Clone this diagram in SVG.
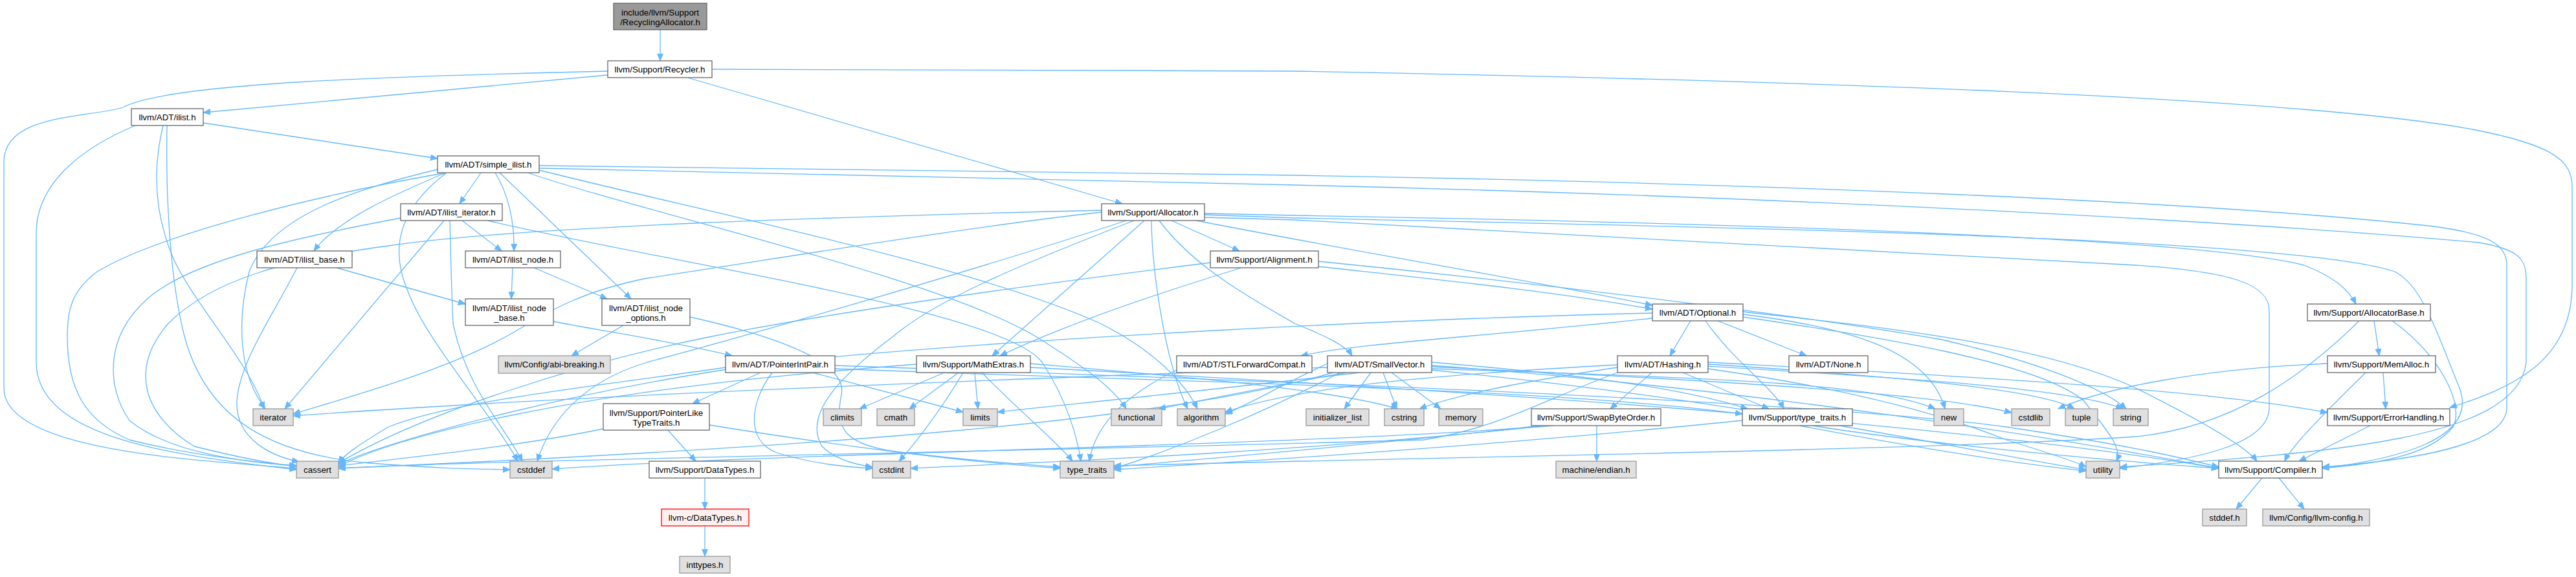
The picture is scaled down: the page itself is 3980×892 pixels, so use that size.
<svg xmlns="http://www.w3.org/2000/svg" width="3980" height="892" viewBox="0 0 3980 892">
<defs>
<marker id="ar" markerWidth="12" markerHeight="10" refX="11" refY="4.5" orient="auto" markerUnits="userSpaceOnUse"><path d="M0,0 L11,4.5 L0,9 z" fill="#63b8ff" stroke="#63b8ff" stroke-width="1"/></marker>
<style>
.e path{fill:none;stroke:#63b8ff;stroke-width:1.3;marker-end:url(#ar)}
.w{fill:#ffffff;stroke:#666666;stroke-width:1.3}
.s{fill:#e0e0e0;stroke:#999999;stroke-width:1.3}
.t{fill:#999999;stroke:#666666;stroke-width:1.3}
.r{fill:#fff0f0;stroke:#ff0000;stroke-width:1.3}
text{font-family:"Liberation Sans",Arial,sans-serif;font-size:13.33px;fill:#000000;text-anchor:middle}
</style>
</defs>
<rect width="3980" height="892" fill="#ffffff"/>
<g id="edges" class="e">
<path d="M1020,46 L1020,94"/>
<path d="M939,116 L314,174"/>
<path d="M939,110 C600,118 260,128 190,166 C140,182 6,175 6,250 L6,600 C6,700 320,712 458,724"/>
<path d="M1062,120 L1734,315"/>
<path d="M1100,107 L2000,110 C2800,125 3550,150 3820,200 C3950,225 3974,250 3974,290 L3974,440 C3974,560 3880,600 3785,630"/>
<path d="M314,190 L676,245"/>
<path d="M209,194 C100,240 56,300 56,360 L56,560 C56,680 280,705 458,726"/>
<path d="M252,194 C236,260 238,330 268,400 C300,470 385,560 408,632"/>
<path d="M258,194 C256,300 262,430 285,520 C320,650 420,700 560,715 C680,725 740,725 788,726"/>
<path d="M743,267 L710,315"/>
<path d="M689,267 C610,300 520,340 485,388"/>
<path d="M765,267 C785,300 795,340 794,388"/>
<path d="M772,267 L975,462"/>
<path d="M689,267 C500,300 250,360 150,420 C110,450 104,480 104,520 C104,600 130,650 200,680 C300,705 400,715 458,720"/>
<path d="M676,262 C560,290 420,330 385,420 C365,500 370,580 410,632"/>
<path d="M690,267 C620,320 600,380 630,450 C660,530 760,640 800,713"/>
<path d="M815,267 C1000,330 1450,430 1600,520 C1680,570 1720,600 1740,632"/>
<path d="M833,263 C1100,330 1500,410 1700,500 C1780,540 1830,590 1850,632"/>
<path d="M833,256 L2000,271 C2700,283 3400,310 3760,350 C3850,362 3873,380 3873,410 L3873,630 C3873,690 3720,712 3588,722"/>
<path d="M833,260 L2000,286 C2800,305 3500,345 3830,375 C3890,385 3903,400 3903,430 L3903,560 C3890,680 3600,700 3275,722"/>
<path d="M714,341 L775,388"/>
<path d="M619,337 C470,365 300,400 230,460 C160,520 165,600 200,650 C260,700 380,715 458,720"/>
<path d="M695,341 C697,420 698,460 700,500 C720,600 780,660 807,713"/>
<path d="M686,341 L440,632"/>
<path d="M753,341 C1050,410 1550,480 1610,560 C1650,620 1665,680 1670,713"/>
<path d="M520,414 L719,470"/>
<path d="M459,414 C420,490 370,560 366,620 C364,680 420,705 462,714"/>
<path d="M792,414 L790,462"/>
<path d="M825,414 L938,462"/>
<path d="M855,497 C950,515 1050,530 1131,550"/>
<path d="M963,503 L883,550"/>
<path d="M1066,490 C1200,520 1310,560 1300,610 C1290,660 1300,690 1400,700 C1500,712 1580,718 1638,722"/>
<path d="M1175,576 L1070,624"/>
<path d="M1193,576 C1160,620 1150,680 1200,700 C1260,718 1310,722 1348,724"/>
<path d="M1255,576 L1488,637"/>
<path d="M1121,568 C900,600 700,620 600,660 C550,690 530,705 523,716"/>
<path d="M1290,565 C2000,590 2800,620 3100,660 C3300,690 3380,710 3428,722"/>
<path d="M1290,570 C1800,590 2400,600 2692,640"/>
<path d="M1032,665 L1075,713"/>
<path d="M1096,657 C1300,690 1500,715 1638,724"/>
<path d="M932,663 C800,690 650,705 523,720"/>
<path d="M1089,739 L1089,787"/>
<path d="M1089,813 L1089,860"/>
<path d="M1459,576 L1328,632"/>
<path d="M1481,576 L1405,632"/>
<path d="M1506,576 L1511,632"/>
<path d="M1488,576 C1450,640 1410,690 1389,713"/>
<path d="M1517,576 C1580,640 1640,690 1657,713"/>
<path d="M1416,563 C1200,580 1000,600 800,640 C650,670 560,700 523,722"/>
<path d="M1592,562 C1800,580 2050,600 2160,632"/>
<path d="M1592,568 C2200,600 3000,650 3428,724"/>
<path d="M1818,572 C1720,620 1690,670 1683,713"/>
<path d="M1861,330 L2000,333 C2800,347 3400,370 3560,410 C3610,430 3630,450 3640,470"/>
<path d="M1861,332 L2000,337 C2800,354 3550,370 3700,420 C3740,440 3760,500 3800,600 C3830,680 3700,710 3588,724"/>
<path d="M1861,336 L2000,340 C2500,370 3000,393 3300,410 C3450,420 3506,440 3506,480 L3506,630 C3506,690 3380,712 3275,724"/>
<path d="M1810,341 L1915,388"/>
<path d="M1848,341 C2100,390 2400,440 2553,472"/>
<path d="M1791,341 C1850,420 1950,470 2000,500 C2050,520 2080,535 2089,550"/>
<path d="M1779,341 C1780,420 1800,560 1835,632"/>
<path d="M1768,341 L1533,550"/>
<path d="M1752,341 C1600,400 1450,460 1380,520 C1300,580 1240,640 1270,690 C1290,710 1320,718 1348,722"/>
<path d="M1740,341 C1500,420 1150,520 1000,560 C900,590 850,650 830,713"/>
<path d="M1702,328 C1500,350 1200,400 1000,430 C900,450 850,480 800,510 C700,570 550,610 453,640"/>
<path d="M1702,325 C1300,335 800,350 600,380 C450,400 330,430 260,500 C200,570 220,640 300,690 C380,710 430,718 458,721"/>
<path d="M1918,414 C1800,450 1650,500 1545,550"/>
<path d="M2037,412 C2200,430 2400,450 2553,478"/>
<path d="M2037,404 C2400,440 2800,490 3000,525 C3150,560 3250,600 3285,632"/>
<path d="M1870,406 C1600,440 1300,480 1100,520 C900,560 650,640 523,716"/>
<path d="M2612,496 L2580,550"/>
<path d="M2654,496 L2791,550"/>
<path d="M2635,496 C2680,560 2740,600 2756,632"/>
<path d="M2693,482 C2900,505 3150,530 3300,600 C3400,650 3470,690 3487,713"/>
<path d="M2553,492 C2300,520 2100,530 2010,550"/>
<path d="M2553,484 C2200,492 1600,520 1200,560 C900,600 600,680 523,718"/>
<path d="M2693,486 C2850,505 2980,540 3005,632"/>
<path d="M2693,490 C2900,520 3150,560 3220,620 C3250,660 3280,690 3270,713"/>
<path d="M2552,576 L2488,632"/>
<path d="M2600,576 L2733,632"/>
<path d="M2639,560 C3000,580 3400,600 3596,638"/>
<path d="M2499,564 C2200,580 2000,600 1893,637"/>
<path d="M2499,568 C2350,590 2250,610 2193,632"/>
<path d="M2499,576 C2380,620 2320,660 2200,680 C1500,700 800,710 523,724"/>
<path d="M2639,563 C2900,580 3150,600 3205,632"/>
<path d="M2639,566 C2950,585 3200,600 3280,632"/>
<path d="M2639,570 C2850,600 3000,640 3100,680 C3180,705 3210,715 3223,722"/>
<path d="M2212,565 C2700,600 3200,680 3428,724"/>
<path d="M2212,560 C2450,580 2600,600 2700,632"/>
<path d="M2051,562 C1990,590 1930,625 1893,640"/>
<path d="M2060,576 C1800,650 1300,690 523,724"/>
<path d="M2212,567 C2700,590 3000,610 3108,638"/>
<path d="M2137,576 L2158,632"/>
<path d="M2080,576 C1950,600 1850,620 1790,632"/>
<path d="M2118,576 L2077,632"/>
<path d="M2051,568 C1600,585 900,610 453,643"/>
<path d="M2100,576 C1900,600 1700,620 1541,637"/>
<path d="M2150,576 L2226,632"/>
<path d="M2212,570 C2700,585 2900,595 2990,632"/>
<path d="M2070,576 C1950,640 1800,700 1721,724"/>
<path d="M2212,572 C2700,620 3000,690 3223,726"/>
<path d="M2467,658 L2467,713"/>
<path d="M2400,658 C2000,690 1200,700 853,725"/>
<path d="M2390,658 C2000,700 1600,715 1407,724"/>
<path d="M2380,658 C2100,690 1850,710 1721,722"/>
<path d="M2800,658 C3000,690 3300,715 3428,724"/>
<path d="M2692,650 C2300,690 1900,715 1721,726"/>
<path d="M2780,658 C2950,690 3100,715 3223,728"/>
<path d="M3668,496 L3676,550"/>
<path d="M3696,496 C3760,540 3810,620 3790,660 C3750,710 3650,718 3588,724"/>
<path d="M3645,496 C3560,580 3450,660 3300,675 C3000,695 2300,705 1721,720"/>
<path d="M3682,576 L3686,632"/>
<path d="M3655,576 C3590,640 3540,690 3530,713"/>
<path d="M3596,562 C3400,570 3250,600 3180,632"/>
<path d="M3662,658 L3552,713"/>
<path d="M3495,739 L3455,787"/>
<path d="M3521,739 L3560,787"/>
</g>
<g id="n0"><rect class="t" x="948" y="5" width="144" height="41"/><text x="1020" y="23.5">include/llvm/Support</text><text x="1020" y="38.5">/RecyclingAllocator.h</text></g>
<g id="n1"><rect class="w" x="939" y="94" width="161" height="26"/><text x="1019.5" y="111.5">llvm/Support/Recycler.h</text></g>
<g id="n2"><rect class="w" x="203" y="168" width="111" height="26"/><text x="258.5" y="185.5">llvm/ADT/ilist.h</text></g>
<g id="n3"><rect class="w" x="676" y="241" width="157" height="26"/><text x="754.5" y="258.5">llvm/ADT/simple_ilist.h</text></g>
<g id="n4"><rect class="w" x="619" y="315" width="157" height="26"/><text x="697.5" y="332.5">llvm/ADT/ilist_iterator.h</text></g>
<g id="n5"><rect class="w" x="397" y="388" width="147" height="26"/><text x="470.5" y="405.5">llvm/ADT/ilist_base.h</text></g>
<g id="n6"><rect class="w" x="719" y="388" width="147" height="26"/><text x="792.5" y="405.5">llvm/ADT/ilist_node.h</text></g>
<g id="n7"><rect class="w" x="719" y="462" width="136" height="41"/><text x="787" y="480.5">llvm/ADT/ilist_node</text><text x="787" y="495.5">_base.h</text></g>
<g id="n8"><rect class="w" x="930" y="462" width="136" height="41"/><text x="998" y="480.5">llvm/ADT/ilist_node</text><text x="998" y="495.5">_options.h</text></g>
<g id="n9"><rect class="s" x="770" y="550" width="173" height="27"/><text x="856.5" y="568">llvm/Config/abi-breaking.h</text></g>
<g id="n10"><rect class="s" x="391" y="632" width="62" height="26"/><text x="422" y="649.5">iterator</text></g>
<g id="n11"><rect class="s" x="458" y="713" width="65" height="26"/><text x="490.5" y="730.5">cassert</text></g>
<g id="n12"><rect class="s" x="788" y="713" width="65" height="26"/><text x="820.5" y="730.5">cstddef</text></g>
<g id="n13"><rect class="w" x="932" y="624" width="164" height="41"/><text x="1014" y="642.5">llvm/Support/PointerLike</text><text x="1014" y="657.5">TypeTraits.h</text></g>
<g id="n14"><rect class="w" x="1003" y="713" width="172" height="26"/><text x="1089" y="730.5">llvm/Support/DataTypes.h</text></g>
<g id="n15"><rect class="r" x="1022" y="787" width="135" height="26"/><text x="1089.5" y="804.5">llvm-c/DataTypes.h</text></g>
<g id="n16"><rect class="s" x="1050" y="860" width="78" height="26"/><text x="1089" y="877.5">inttypes.h</text></g>
<g id="n17"><rect class="w" x="1121" y="550" width="169" height="26"/><text x="1205.5" y="567.5">llvm/ADT/PointerIntPair.h</text></g>
<g id="n18"><rect class="w" x="1416" y="550" width="176" height="26"/><text x="1504" y="567.5">llvm/Support/MathExtras.h</text></g>
<g id="n19"><rect class="s" x="1272" y="632" width="59" height="26"/><text x="1301.5" y="649.5">climits</text></g>
<g id="n20"><rect class="s" x="1355" y="632" width="58" height="26"/><text x="1384" y="649.5">cmath</text></g>
<g id="n21"><rect class="s" x="1488" y="632" width="53" height="26"/><text x="1514.5" y="649.5">limits</text></g>
<g id="n22"><rect class="s" x="1717" y="632" width="78" height="26"/><text x="1756" y="649.5">functional</text></g>
<g id="n23"><rect class="s" x="1819" y="632" width="74" height="26"/><text x="1856" y="649.5">algorithm</text></g>
<g id="n24"><rect class="s" x="1348" y="713" width="59" height="26"/><text x="1377.5" y="730.5">cstdint</text></g>
<g id="n25"><rect class="s" x="1638" y="713" width="83" height="26"/><text x="1679.5" y="730.5">type_traits</text></g>
<g id="n26"><rect class="w" x="1818" y="550" width="209" height="26"/><text x="1922.5" y="567.5">llvm/ADT/STLForwardCompat.h</text></g>
<g id="n27"><rect class="w" x="1702" y="315" width="159" height="26"/><text x="1781.5" y="332.5">llvm/Support/Allocator.h</text></g>
<g id="n28"><rect class="w" x="1870" y="388" width="167" height="26"/><text x="1953.5" y="405.5">llvm/Support/Alignment.h</text></g>
<g id="n29"><rect class="w" x="2553" y="470" width="140" height="26"/><text x="2623" y="487.5">llvm/ADT/Optional.h</text></g>
<g id="n30"><rect class="w" x="2051" y="550" width="161" height="26"/><text x="2131.5" y="567.5">llvm/ADT/SmallVector.h</text></g>
<g id="n31"><rect class="w" x="2499" y="550" width="140" height="26"/><text x="2569" y="567.5">llvm/ADT/Hashing.h</text></g>
<g id="n32"><rect class="w" x="2764" y="550" width="122" height="26"/><text x="2825" y="567.5">llvm/ADT/None.h</text></g>
<g id="n33"><rect class="s" x="2018" y="632" width="97" height="26"/><text x="2066.5" y="649.5">initializer_list</text></g>
<g id="n34"><rect class="s" x="2139" y="632" width="61" height="26"/><text x="2169.5" y="649.5">cstring</text></g>
<g id="n35"><rect class="s" x="2223" y="632" width="68" height="26"/><text x="2257" y="649.5">memory</text></g>
<g id="n36"><rect class="w" x="2366" y="632" width="200" height="26"/><text x="2466" y="649.5">llvm/Support/SwapByteOrder.h</text></g>
<g id="n37"><rect class="w" x="2692" y="632" width="170" height="26"/><text x="2777" y="649.5">llvm/Support/type_traits.h</text></g>
<g id="n38"><rect class="s" x="2404" y="713" width="124" height="26"/><text x="2466" y="730.5">machine/endian.h</text></g>
<g id="n39"><rect class="s" x="2988" y="632" width="46" height="26"/><text x="3011" y="649.5">new</text></g>
<g id="n40"><rect class="s" x="3108" y="632" width="59" height="26"/><text x="3137.5" y="649.5">cstdlib</text></g>
<g id="n41"><rect class="s" x="3191" y="632" width="50" height="26"/><text x="3216" y="649.5">tuple</text></g>
<g id="n42"><rect class="s" x="3265" y="632" width="54" height="26"/><text x="3292" y="649.5">string</text></g>
<g id="n43"><rect class="s" x="3223" y="713" width="52" height="26"/><text x="3249" y="730.5">utility</text></g>
<g id="n44"><rect class="w" x="3428" y="713" width="160" height="26"/><text x="3508" y="730.5">llvm/Support/Compiler.h</text></g>
<g id="n45"><rect class="s" x="3403" y="787" width="68" height="26"/><text x="3437" y="804.5">stddef.h</text></g>
<g id="n46"><rect class="s" x="3496" y="787" width="165" height="26"/><text x="3578.5" y="804.5">llvm/Config/llvm-config.h</text></g>
<g id="n47"><rect class="w" x="3565" y="470" width="190" height="26"/><text x="3660" y="487.5">llvm/Support/AllocatorBase.h</text></g>
<g id="n48"><rect class="w" x="3596" y="550" width="167" height="26"/><text x="3679.5" y="567.5">llvm/Support/MemAlloc.h</text></g>
<g id="n49"><rect class="w" x="3596" y="632" width="189" height="26"/><text x="3690.5" y="649.5">llvm/Support/ErrorHandling.h</text></g>
</svg>
